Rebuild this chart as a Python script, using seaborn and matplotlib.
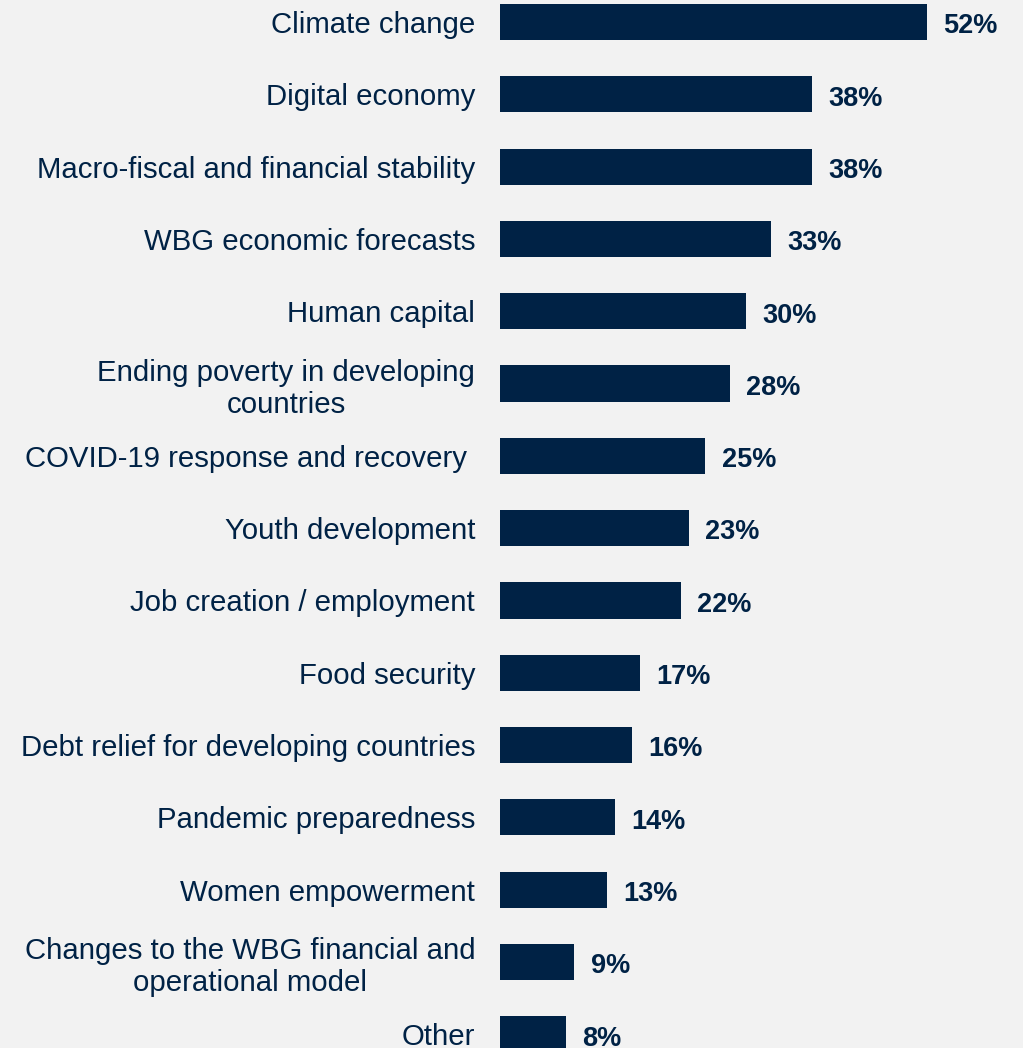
import matplotlib.pyplot as plt
import seaborn as sns
import pandas as pd

# datos
topics = [
    "Climate change",
    "Digital economy",
    "Macro-fiscal and financial stability",
    "WBG economic forecasts",
    "Human capital",
    "Ending poverty in developing\ncountries",
    "COVID-19 response and recovery ",
    "Youth development",
    "Job creation / employment",
    "Food security",
    "Debt relief for developing countries",
    "Pandemic preparedness",
    "Women empowerment",
    "Changes to the WBG financial and\noperational model",
    "Other",
]
shares = [52, 38, 38, 33, 30, 28, 25, 23, 22, 17, 16, 14, 13, 9, 8]

NAVY = "#002245"
BG = "#f2f2f2"

sns.set_theme(style="white")
plt.rcParams["font.family"] = ["Liberation Sans", "DejaVu Sans"]

df = pd.DataFrame({"Topic": topics, "Share": shares})

fig = plt.figure(figsize=(10.23, 10.48), dpi=100, facecolor=BG)
ax = fig.add_axes([0.489, 0.0, 0.511, 1.0])
ax.set_facecolor(BG)

sns.barplot(data=df, x="Share", y="Topic", color=NAVY, width=0.5,
            saturation=1, linewidth=0, ax=ax)

ax.set_xlim(0, 63.7)
ax.set_ylim(14.19, -0.304)
ax.set_xticks([])
ax.set_xlabel("")
ax.set_ylabel("")
for s in ax.spines.values():
    s.set_visible(False)

ax.tick_params(axis="y", length=0, pad=18, labelsize=21.2, labelcolor=NAVY)
for lbl in ax.get_yticklabels():
    lbl.set_multialignment("center")

for i, v in enumerate(shares):
    ax.text(v + 2.0, i + 0.06, f"{v}%", va="center", ha="left",
            fontsize=19.5, fontweight="bold", color=NAVY)

fig.savefig("out.png", dpi=100, facecolor=BG)
